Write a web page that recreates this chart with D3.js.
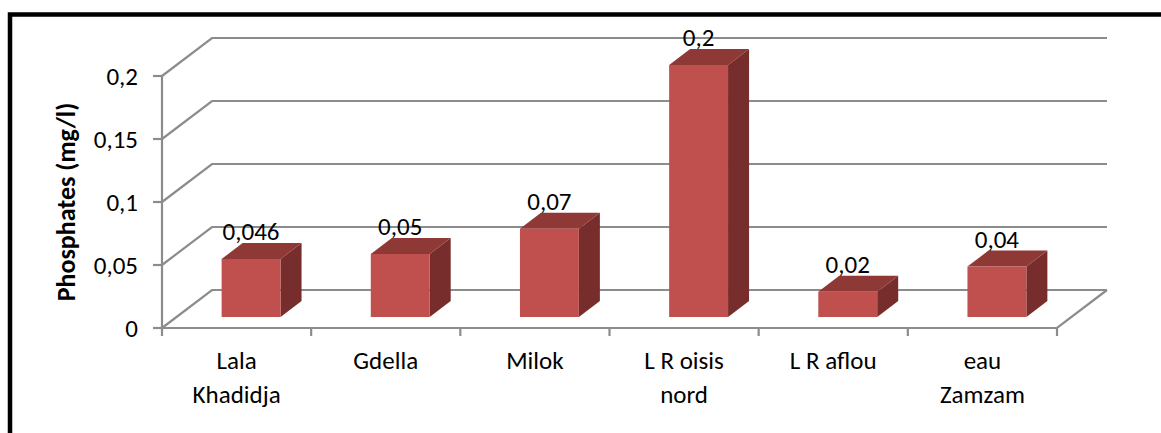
<!DOCTYPE html>
<html>
<head>
<meta charset="utf-8">
<script src="https://cdn.jsdelivr.net/npm/d3@7"></script>
<style>
  html, body { margin: 0; padding: 0; background: #fff; }
  svg { display: block; }
  text { font-family: Carlito, Calibri, Lato, sans-serif; fill: #000; }
</style>
</head>
<body>
<svg id="chart" width="1161" height="433"></svg>
<script>
// Phosphate concentration per water source (mg/l)
const categories = [["Lala", "Khadidja"], ["Gdella"], ["Milok"], ["L R oisis", "nord"], ["L R aflou"], ["eau", "Zamzam"]];
const values = [0.046, 0.05, 0.07, 0.2, 0.02, 0.04];
const valueLabels = ["0,046", "0,05", "0,07", "0,2", "0,02", "0,04"];
const yTicks = [0, 0.05, 0.1, 0.15, 0.2];
const yTickLabels = ["0", "0,05", "0,1", "0,15", "0,2"];
const yTitle = "Phosphates (mg/l)";

const svg = d3.select("#chart");

// plot geometry: front plane and oblique depth of the 3D box
const x0 = 162, x1 = 1057, yBottom = 328, yTop = 76;
const depthX = 50, depthY = -38;
const z0 = 0.29, z1 = 0.71;          // bar depth span inside the box

const keys = categories.map((c, i) => i);
const x = d3.scaleBand().domain(keys).range([x0, x1]).paddingInner(0.605).paddingOuter(0.3025);
const step = x.step();
const y = d3.scaleLinear().domain([0, 0.2]).range([yBottom, yTop]);

// projection of (screen x, value, depth z) onto the page
const P = (px, v, z) => [px + depthX * z, y(v) + depthY * z];

// outer frame
svg.append("rect")
  .attr("x", 10).attr("y", 14.5).attr("width", 1300).attr("height", 600)
  .attr("fill", "none").attr("stroke", "#000").attr("stroke-width", 4.5);

const gridColor = "#8c8c8c";
const grid = svg.append("g").attr("fill", "none").attr("stroke", gridColor).attr("stroke-width", 2.2);

// side-wall diagonals and back-wall gridlines
yTicks.forEach(t => {
  const a = P(x0, t, 0), b = P(x0, t, 1), c = P(x1, t, 1);
  grid.append("polyline").attr("points", [a, b, c].map(p => p.join(",")).join(" "));
});
// floor right edge and front edge
grid.append("polyline").attr("points", [P(x1, 0, 1), P(x1, 0, 0), P(x0, 0, 0)].map(p => p.join(",")).join(" "));
// value axis
grid.append("line").attr("x1", x0).attr("x2", x0).attr("y1", y(0.2)).attr("y2", y(0));
yTicks.forEach(t => {
  grid.append("line").attr("x1", x0 - 9).attr("x2", x0).attr("y1", y(t)).attr("y2", y(t));
});
// category axis tick marks at band boundaries
d3.range(keys.length + 1).forEach(i => {
  const px = x0 + i * step;
  grid.append("line").attr("x1", px).attr("x2", px).attr("y1", y(0)).attr("y2", y(0) + 8);
});

// y tick labels
svg.append("g").selectAll("text").data(yTicks).join("text")
  .attr("x", x0 - 24).attr("y", d => y(d)).attr("dy", "0.36em")
  .attr("text-anchor", "end").attr("font-size", 25)
  .text((d, i) => yTickLabels[i]);

// y axis title
svg.append("text")
  .attr("transform", `translate(66,${(y(0) + y(0.2)) / 2}) rotate(-90)`)
  .attr("dy", "0.36em")
  .attr("text-anchor", "middle").attr("font-size", 26).attr("font-weight", "bold")
  .text(yTitle);

// category labels
const catG = svg.append("g");
keys.forEach(i => {
  const cx = x(i) + x.bandwidth() / 2;
  const t = catG.append("text").attr("x", cx).attr("y", 369).attr("text-anchor", "middle").attr("font-size", 25);
  categories[i].forEach((line, j) => {
    t.append("tspan").attr("x", cx).attr("dy", j === 0 ? 0 : 34).text(line);
  });
});

// 3D bars
const bars = svg.append("g");
keys.forEach(i => {
  const v = values[i];
  const l = x(i), r = x(i) + x.bandwidth();
  const poly = (pts, fill) => bars.append("polygon")
    .attr("points", pts.map(p => p.join(",")).join(" ")).attr("fill", fill);
  // side face
  poly([P(r, 0, z0), P(r, 0, z1), P(r, v, z1), P(r, v, z0)], "#772d2b");
  // top face
  poly([P(l, v, z0), P(r, v, z0), P(r, v, z1), P(l, v, z1)], "#8f3937");
  // front face
  poly([P(l, 0, z0), P(r, 0, z0), P(r, v, z0), P(l, v, z0)], "#c0504d");
  // value label
  const top = P(l, v, z1);
  bars.append("text")
    .attr("x", P(l + x.bandwidth() / 2, v, z0)[0]).attr("y", top[1] - 3)
    .attr("text-anchor", "middle").attr("font-size", 25)
    .text(valueLabels[i]);
});
</script>
</body>
</html>
